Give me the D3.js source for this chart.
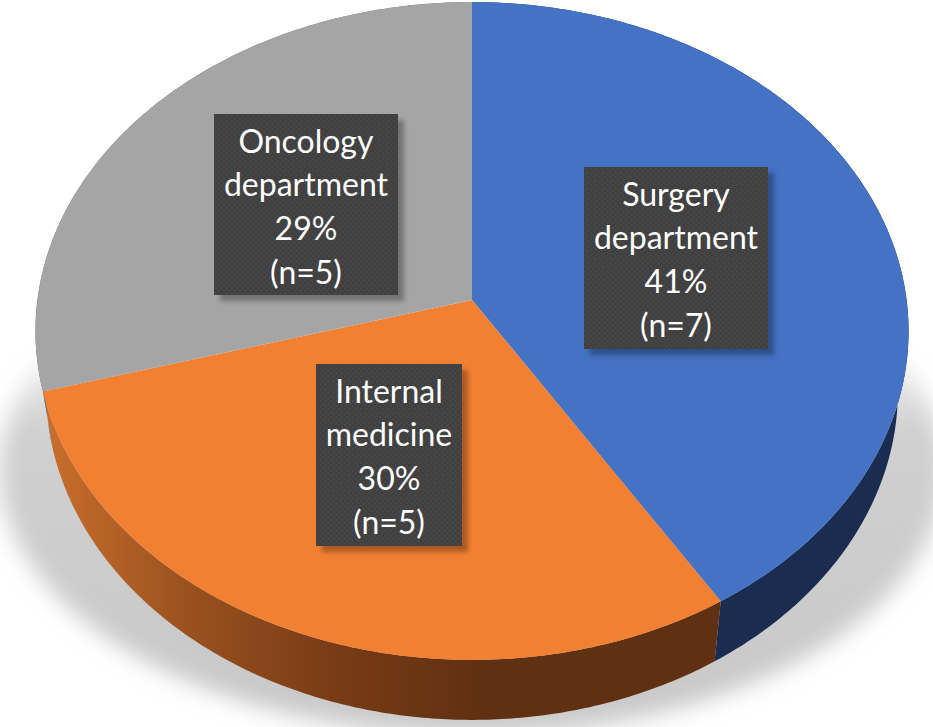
<!DOCTYPE html>
<html>
<head>
<meta charset="utf-8">
<script src="https://cdnjs.cloudflare.com/ajax/libs/d3/7.8.5/d3.min.js"></script>
<style>
  html, body { margin: 0; padding: 0; background: #fff; }
  svg { display: block; }
</style>
</head>
<body>
<svg id="chart" width="933" height="727"></svg>
<script>
// data
const departments = ["Surgery department", "Internal medicine", "Oncology department"];
const counts = [7, 5, 5];
const percents = ["41%", "30%", "29%"];
const labelLines = [["Surgery", "department"], ["Internal", "medicine"], ["Oncology", "department"]];
const topColors = ["#4472c4", "#f28033", "#a5a5a5"];

let chart = d3.select("#chart");
let defs = chart.append("defs");

// tilted disc: the unit circle goes through a small perspective divide
const tilt = -0.0942;
const apex = [472, 300];
function disc(cx, cy, rx, ry) {
    return function(angle) {
        let u = Math.sin(angle), v = -Math.cos(angle);
        let d = 1 + tilt * v;
        return [cx + rx * u / d, cy + ry * v / d];
    };
}
let topDisc = disc(apex[0], apex[1], 434.6, 326);
let bottomDisc = disc(apex[0], 360, 424, 326);
let shadowDisc = disc(apex[0], 445, 470, 262.6);

function arcPoints(project, a0, a1) {
    let n = Math.max(2, Math.ceil((a1 - a0) / 0.01));
    return d3.range(n + 1).map(function(i) { return project(a0 + (a1 - a0) * i / n); });
}
let line = d3.line();

let slices = d3.pie().sort(null)(counts);

// shadow
defs.append("filter").attr("id", "blur")
    .attr("x", "-10%").attr("y", "-10%").attr("width", "120%").attr("height", "120%")
    .append("feGaussianBlur").attr("stdDeviation", 11);
let shadowFade = defs.append("linearGradient").attr("id", "shadowFade")
    .attr("x1", 0).attr("y1", 0).attr("x2", 0).attr("y2", 1);
shadowFade.append("stop").attr("offset", "0.24").attr("stop-color", "#fff");
shadowFade.append("stop").attr("offset", "0.42").attr("stop-color", "#d0d0d0");
shadowFade.append("stop").attr("offset", "1").attr("stop-color", "#c8c8c8");
chart.append("path")
    .attr("d", line(arcPoints(shadowDisc, 0, 2 * Math.PI)) + "Z")
    .attr("fill", "url(#shadowFade)")
    .attr("filter", "url(#blur)");

// side of the disc
let sideOrange = defs.append("linearGradient").attr("id", "sideOrange")
    .attr("gradientUnits", "userSpaceOnUse")
    .attr("x1", 45).attr("y1", 0).attr("x2", 720).attr("y2", 0);
sideOrange.append("stop").attr("offset", "0").attr("stop-color", "#c96f2b");
sideOrange.append("stop").attr("offset", "0.22").attr("stop-color", "#98501f");
sideOrange.append("stop").attr("offset", "0.42").attr("stop-color", "#7a3c16");
sideOrange.append("stop").attr("offset", "0.65").attr("stop-color", "#5f3012");
sideOrange.append("stop").attr("offset", "1").attr("stop-color", "#5f3012");
let sideColors = ["#1a2d50", "url(#sideOrange)", "#6b6b6b"];

chart.selectAll(".side")
    .data(slices)
    .enter()
    .append("path")
    .attr("class", "side")
    .attr("fill", function(d, i) { return sideColors[i]; })
    .attr("d", function(d) {
        let upper = arcPoints(topDisc, d.startAngle, d.endAngle);
        let lower = arcPoints(bottomDisc, d.startAngle, d.endAngle).reverse();
        return line(upper.concat(lower)) + "Z";
    });

// top of the disc
chart.selectAll(".slice")
    .data(slices)
    .enter()
    .append("path")
    .attr("class", "slice")
    .attr("fill", function(d, i) { return topColors[i]; })
    .attr("d", function(d) {
        return line([apex].concat(arcPoints(topDisc, d.startAngle, d.endAngle))) + "Z";
    });

// labels
let dots = defs.append("pattern").attr("id", "dots")
    .attr("width", 5.4).attr("height", 5.4)
    .attr("patternUnits", "userSpaceOnUse");
dots.append("rect").attr("width", 5.4).attr("height", 5.4).attr("fill", "#404040");
dots.append("rect").attr("x", 1).attr("y", 1).attr("width", 1.4).attr("height", 1.4).attr("fill", "#4f4f4f");
dots.append("rect").attr("x", 3.7).attr("y", 3.7).attr("width", 1.4).attr("height", 1.4).attr("fill", "#4f4f4f");

let boxShadow = defs.append("filter").attr("id", "boxShadow")
    .attr("x", "-10%").attr("y", "-10%").attr("width", "120%").attr("height", "120%");
boxShadow.append("feGaussianBlur").attr("stdDeviation", 2.5);

let labelBoxes = [
    { x: 584, y: 167, w: 184, h: 182 },
    { x: 316, y: 364, w: 146, h: 182 },
    { x: 214, y: 114, w: 184, h: 181 }
];

let labels = chart.selectAll(".label")
    .data(departments)
    .enter()
    .append("g")
    .attr("class", "label")
    .attr("transform", function(d, i) { return "translate(" + labelBoxes[i].x + "," + labelBoxes[i].y + ")"; });

labels.append("rect")
    .attr("x", 6).attr("y", 6)
    .attr("width", function(d, i) { return labelBoxes[i].w; })
    .attr("height", function(d, i) { return labelBoxes[i].h; })
    .attr("fill", "#000")
    .attr("opacity", 0.3)
    .attr("filter", "url(#boxShadow)");

labels.append("rect")
    .attr("width", function(d, i) { return labelBoxes[i].w; })
    .attr("height", function(d, i) { return labelBoxes[i].h; })
    .attr("fill", "url(#dots)");

labels.each(function(d, i) {
    let lines = labelLines[i].concat([percents[i], "(n=" + counts[i] + ")"]);
    d3.select(this).selectAll("text")
        .data(lines)
        .enter()
        .append("text")
        .attr("x", labelBoxes[i].w / 2)
        .attr("y", function(t, j) { return 38.5 + j * 43.7; })
        .attr("text-anchor", "middle")
        .attr("fill", "#fff")
        .style("font-family", "Lato, 'Open Sans', sans-serif")
        .style("font-size", "32px")
        .text(function(t) { return t; });
});
</script>
</body>
</html>
